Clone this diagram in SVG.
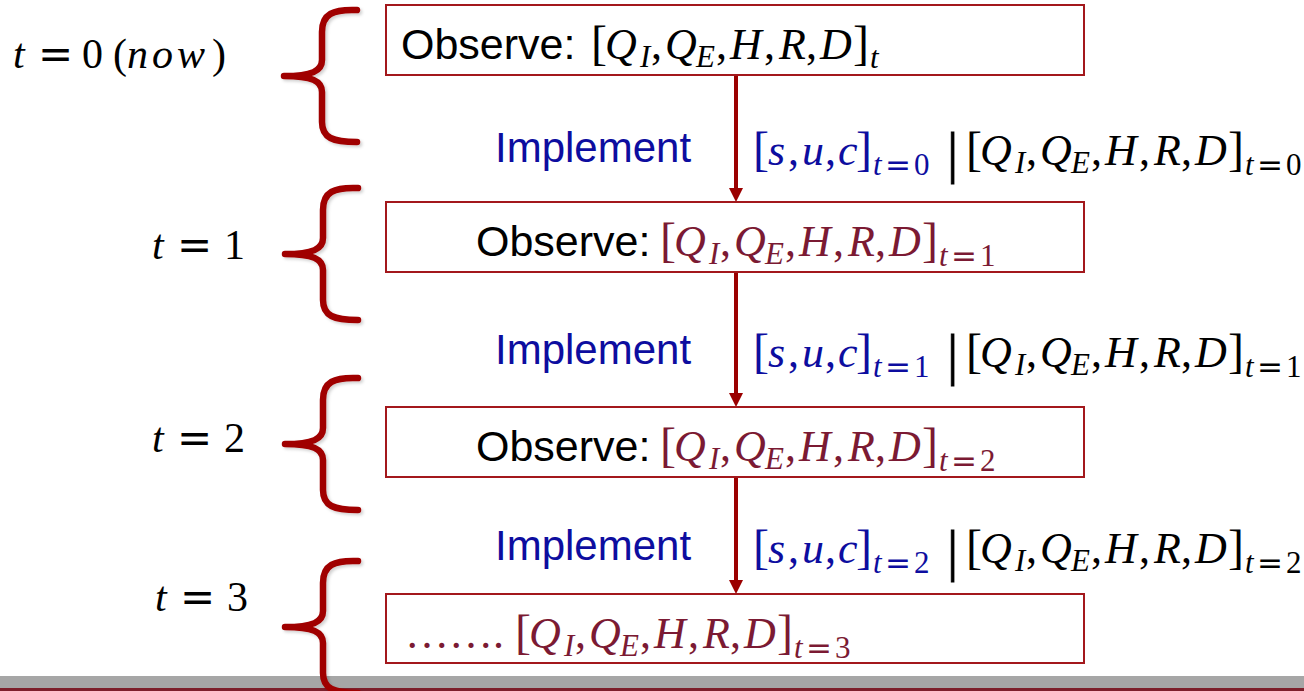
<svg xmlns="http://www.w3.org/2000/svg" width="1304" height="691" viewBox="0 0 1304 691">
<style>
.box{fill:#fff;stroke:#a3181c;stroke-width:2}
.brace{fill:none;stroke:#a00000;stroke-width:6.5;stroke-linecap:round;stroke-linejoin:round}
.conn{stroke:#9b0000;stroke-width:4;fill:none}
.sans{font-family:"Liberation Sans",Arial,sans-serif;font-size:43px}
.m{font-family:"Liberation Serif","Times New Roman",serif;font-size:44px;fill:#000}
.i{font-style:italic}
.sub{font-size:31px}
.eq{font-family:"DejaVu Sans",sans-serif}
.br{font-size:48px}
.bar{font-family:"Liberation Serif","Times New Roman",serif;font-size:56px;fill:#000;stroke:#000;stroke-width:0.8}
.blue{fill:#0d0d9f}
.red{fill:#7b1a33}
.lbl{font-size:42px}
</style>
<defs>
<marker id="ah" markerUnits="userSpaceOnUse" viewBox="0 0 10 10" refX="0" refY="5" markerWidth="14" markerHeight="16" orient="auto">
<path d="M0,0 L10,5 L0,10 z" fill="#9b0000"/>
</marker>
<filter id="sh" x="-20%" y="-10%" width="140%" height="120%">
<feDropShadow dx="2" dy="2" stdDeviation="1.5" flood-color="#000" flood-opacity="0.18"/>
</filter>
</defs>

<rect x="0" y="676" width="1304" height="12" fill="#a6a6a6"/>
<rect x="0" y="688" width="1304" height="3" fill="#7d1f2b"/>

<g id="label-t0">
<text class="m lbl" y="68"><tspan class="i" x="13">t</tspan><tspan class="eq" x="38">=</tspan><tspan x="82">0</tspan><tspan x="113">(</tspan><tspan class="i" x="127">n</tspan><tspan class="i" x="152">o</tspan><tspan class="i" x="177">w</tspan><tspan x="212">)</tspan></text>
<path class="brace" filter="url(#sh)" d="M357,10 C333,9 322,14 322,32 L322,60 C322,71 312,76 284,76 C312,76 322,81 322,92 L322,122 C322,138 333,142 357,142"/>
</g>
<g id="label-t1">
<text class="m lbl" y="259"><tspan class="i" x="152">t</tspan><tspan class="eq" x="177">=</tspan><tspan x="224">1</tspan></text>
<path class="brace" filter="url(#sh)" transform="translate(1,178)" d="M357,10 C333,9 322,14 322,32 L322,60 C322,71 312,76 284,76 C312,76 322,81 322,92 L322,122 C322,138 333,142 357,142"/>
</g>
<g id="label-t2">
<text class="m lbl" y="452"><tspan class="i" x="152">t</tspan><tspan class="eq" x="177">=</tspan><tspan x="224">2</tspan></text>
<path class="brace" filter="url(#sh)" transform="translate(1,368)" d="M357,10 C333,9 322,14 322,32 L322,60 C322,71 312,76 284,76 C312,76 322,81 322,92 L322,122 C322,138 333,142 357,142"/>
</g>
<g id="label-t3">
<text class="m lbl" y="611"><tspan class="i" x="155">t</tspan><tspan class="eq" x="180">=</tspan><tspan x="227">3</tspan></text>
<path class="brace" filter="url(#sh)" transform="translate(1,551)" d="M357,10 C333,9 322,14 322,32 L322,60 C322,71 312,76 284,76 C312,76 322,81 322,92 L322,122 C322,138 333,142 357,142"/>
</g>

<g id="connectors">
<line class="conn" x1="736" y1="76" x2="736" y2="188" marker-end="url(#ah)"/>
<line class="conn" x1="736" y1="273" x2="736" y2="393" marker-end="url(#ah)"/>
<line class="conn" x1="736" y1="478" x2="736" y2="580" marker-end="url(#ah)"/>
</g>

<g id="box-t0">
<rect class="box" x="386" y="5" width="698" height="70"/>
<text class="sans" x="401" y="59">Observe:</text>
<text class="m" y="59"><tspan class="br" x="591">[</tspan><tspan class="i" x="605">Q</tspan><tspan class="i sub" x="640" y="67">I</tspan><tspan x="651" y="59">,</tspan><tspan class="i" x="665">Q</tspan><tspan class="i sub" x="696" y="67">E</tspan><tspan x="716" y="59">,</tspan><tspan class="i" x="730">H</tspan><tspan x="764">,</tspan><tspan class="i" x="779">R</tspan><tspan x="806">,</tspan><tspan class="i" x="820">D</tspan><tspan class="br" x="853">]</tspan><tspan class="i sub" x="870" y="68">t</tspan></text>
</g>

<g id="implement-t0">
<text class="sans blue" x="495" y="162" style="font-size:42px">Implement</text>
<text class="m blue" y="165"><tspan class="br" x="753">[</tspan><tspan class="i" x="768">s</tspan><tspan x="788">,</tspan><tspan class="i" x="802">u</tspan><tspan x="825">,</tspan><tspan class="i" x="838">c</tspan><tspan class="br" x="856">]</tspan><tspan class="i sub" x="873" y="175">t</tspan><tspan class="eq sub" x="885">=</tspan><tspan class="sub" x="914">0</tspan></text>
<text class="bar" x="947" y="172">|</text>
<text class="m" y="165"><tspan class="br" x="966">[</tspan><tspan class="i" x="980">Q</tspan><tspan class="i sub" x="1015" y="173">I</tspan><tspan x="1026" y="165">,</tspan><tspan class="i" x="1040">Q</tspan><tspan class="i sub" x="1071" y="173">E</tspan><tspan x="1091" y="165">,</tspan><tspan class="i" x="1105">H</tspan><tspan x="1139">,</tspan><tspan class="i" x="1154">R</tspan><tspan x="1181">,</tspan><tspan class="i" x="1195">D</tspan><tspan class="br" x="1228">]</tspan><tspan class="i sub" x="1245" y="175">t</tspan><tspan class="eq sub" x="1257">=</tspan><tspan class="sub" x="1286">0</tspan></text>
</g>

<g id="box-t1">
<rect class="box" x="386" y="202" width="698" height="70"/>
<text class="sans" x="476" y="256">Observe:</text>
<text class="m red" y="256"><tspan class="br" x="660">[</tspan><tspan class="i" x="674">Q</tspan><tspan class="i sub" x="709" y="264">I</tspan><tspan x="720" y="256">,</tspan><tspan class="i" x="734">Q</tspan><tspan class="i sub" x="765" y="264">E</tspan><tspan x="785" y="256">,</tspan><tspan class="i" x="799">H</tspan><tspan x="833">,</tspan><tspan class="i" x="848">R</tspan><tspan x="875">,</tspan><tspan class="i" x="889">D</tspan><tspan class="br" x="922">]</tspan><tspan class="i sub" x="939" y="266">t</tspan><tspan class="eq sub" x="951">=</tspan><tspan class="sub" x="980">1</tspan></text>
</g>

<g id="implement-t1">
<text class="sans blue" x="495" y="364" style="font-size:42px">Implement</text>
<text class="m blue" y="367"><tspan class="br" x="753">[</tspan><tspan class="i" x="768">s</tspan><tspan x="788">,</tspan><tspan class="i" x="802">u</tspan><tspan x="825">,</tspan><tspan class="i" x="838">c</tspan><tspan class="br" x="856">]</tspan><tspan class="i sub" x="873" y="377">t</tspan><tspan class="eq sub" x="885">=</tspan><tspan class="sub" x="914">1</tspan></text>
<text class="bar" x="947" y="374">|</text>
<text class="m" y="367"><tspan class="br" x="966">[</tspan><tspan class="i" x="980">Q</tspan><tspan class="i sub" x="1015" y="375">I</tspan><tspan x="1026" y="367">,</tspan><tspan class="i" x="1040">Q</tspan><tspan class="i sub" x="1071" y="375">E</tspan><tspan x="1091" y="367">,</tspan><tspan class="i" x="1105">H</tspan><tspan x="1139">,</tspan><tspan class="i" x="1154">R</tspan><tspan x="1181">,</tspan><tspan class="i" x="1195">D</tspan><tspan class="br" x="1228">]</tspan><tspan class="i sub" x="1245" y="377">t</tspan><tspan class="eq sub" x="1257">=</tspan><tspan class="sub" x="1286">1</tspan></text>
</g>

<g id="box-t2">
<rect class="box" x="386" y="407" width="698" height="70"/>
<text class="sans" x="476" y="461">Observe:</text>
<text class="m red" y="461"><tspan class="br" x="660">[</tspan><tspan class="i" x="674">Q</tspan><tspan class="i sub" x="709" y="469">I</tspan><tspan x="720" y="461">,</tspan><tspan class="i" x="734">Q</tspan><tspan class="i sub" x="765" y="469">E</tspan><tspan x="785" y="461">,</tspan><tspan class="i" x="799">H</tspan><tspan x="833">,</tspan><tspan class="i" x="848">R</tspan><tspan x="875">,</tspan><tspan class="i" x="889">D</tspan><tspan class="br" x="922">]</tspan><tspan class="i sub" x="939" y="471">t</tspan><tspan class="eq sub" x="951">=</tspan><tspan class="sub" x="980">2</tspan></text>
</g>

<g id="implement-t2">
<text class="sans blue" x="495" y="560" style="font-size:42px">Implement</text>
<text class="m blue" y="563"><tspan class="br" x="753">[</tspan><tspan class="i" x="768">s</tspan><tspan x="788">,</tspan><tspan class="i" x="802">u</tspan><tspan x="825">,</tspan><tspan class="i" x="838">c</tspan><tspan class="br" x="856">]</tspan><tspan class="i sub" x="873" y="573">t</tspan><tspan class="eq sub" x="885">=</tspan><tspan class="sub" x="914">2</tspan></text>
<text class="bar" x="947" y="570">|</text>
<text class="m" y="563"><tspan class="br" x="966">[</tspan><tspan class="i" x="980">Q</tspan><tspan class="i sub" x="1015" y="571">I</tspan><tspan x="1026" y="563">,</tspan><tspan class="i" x="1040">Q</tspan><tspan class="i sub" x="1071" y="571">E</tspan><tspan x="1091" y="563">,</tspan><tspan class="i" x="1105">H</tspan><tspan x="1139">,</tspan><tspan class="i" x="1154">R</tspan><tspan x="1181">,</tspan><tspan class="i" x="1195">D</tspan><tspan class="br" x="1228">]</tspan><tspan class="i sub" x="1245" y="573">t</tspan><tspan class="eq sub" x="1257">=</tspan><tspan class="sub" x="1286">2</tspan></text>
</g>

<g id="box-t3">
<rect class="box" x="386" y="594" width="698" height="69"/>
<text class="m red" y="648"><tspan x="405">…….</tspan><tspan class="br" x="515">[</tspan><tspan class="i" x="529">Q</tspan><tspan class="i sub" x="564" y="656">I</tspan><tspan x="575" y="648">,</tspan><tspan class="i" x="589">Q</tspan><tspan class="i sub" x="620" y="656">E</tspan><tspan x="640" y="648">,</tspan><tspan class="i" x="654">H</tspan><tspan x="688">,</tspan><tspan class="i" x="703">R</tspan><tspan x="730">,</tspan><tspan class="i" x="744">D</tspan><tspan class="br" x="777">]</tspan><tspan class="i sub" x="794" y="658">t</tspan><tspan class="eq sub" x="806">=</tspan><tspan class="sub" x="835">3</tspan></text>
</g>
</svg>
